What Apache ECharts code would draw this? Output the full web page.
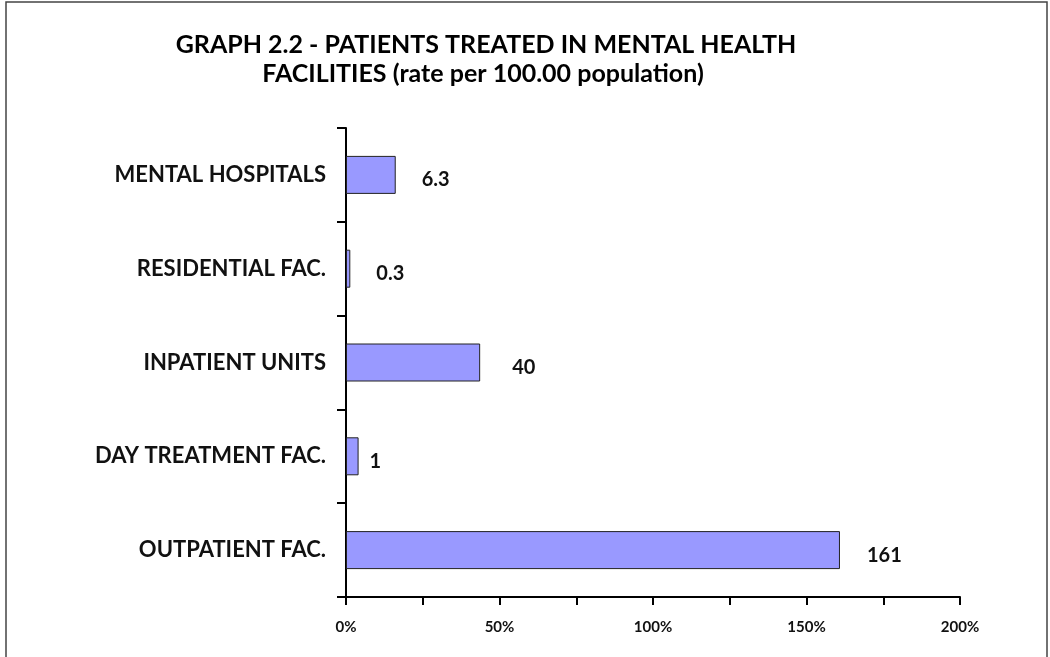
<!DOCTYPE html>
<html>
<head>
<meta charset="utf-8">
<script src="https://cdn.jsdelivr.net/npm/echarts@6/dist/echarts.min.js"></script>
<style>
html,body{margin:0;padding:0;background:#fff;}
#chart{width:1050px;height:657px;}
</style>
</head>
<body>
<div id="chart"></div>
<script>
// Data
const titleLines = ['GRAPH 2.2 - PATIENTS TREATED IN MENTAL HEALTH', 'FACILITIES (rate per 100.00 population)'];
const categories = ['MENTAL HOSPITALS', 'RESIDENTIAL FAC.', 'INPATIENT UNITS', 'DAY TREATMENT FAC.', 'OUTPATIENT FAC.'];
const barValues = [16.2, 1.4, 43.7, 4.1, 160.9];      // bar lengths, read against the % axis
const labelTexts = ['6.3', '0.3', '40', '1', '161'];   // data labels as printed
const xTicks = [0, 50, 100, 150, 200];                 // labelled % ticks

// label spacing (style only)
const labelGap = [26, 26, 32, 11, 27];

const FONT = 'Lato';
const chart = echarts.init(document.getElementById('chart'), null, {renderer: 'canvas'});

const option = {
  backgroundColor: '#ffffff',
  animation: false,
  graphic: [
    {type: 'rect', shape: {x: 6, y: 2, width: 1041, height: 700}, style: {fill: 'none', stroke: '#444', lineWidth: 1.5}, z: 0},
    {type: 'text', x: 486, y: 45, style: {text: titleLines[0], font: 'bold 25px ' + FONT, fill: '#000', textAlign: 'center', textVerticalAlign: 'middle'}},
    {type: 'text', x: 483, y: 74, style: {text: titleLines[1], font: 'bold 25px ' + FONT, fill: '#000', textAlign: 'center', textVerticalAlign: 'middle'}}
  ],
  grid: {left: 346, right: 90, top: 128, bottom: 60, containLabel: false},
  xAxis: {
    type: 'value', min: 0, max: 200, interval: 25,
    axisLine: {show: true, lineStyle: {color: '#000', width: 2}},
    axisTick: {show: true, length: 8, lineStyle: {color: '#000', width: 2}},
    splitLine: {show: false},
    axisLabel: {
      margin: 23, fontFamily: FONT, fontSize: 15, fontWeight: 'bold', color: '#111',
      formatter: v => xTicks.indexOf(v) >= 0 ? v + '%' : ''
    }
  },
  yAxis: {
    type: 'category', data: categories, inverse: true,
    axisLine: {show: true, lineStyle: {color: '#000', width: 2}},
    axisTick: {show: true, length: 9, lineStyle: {color: '#000', width: 2}},
    axisLabel: {margin: 20, fontFamily: FONT, fontSize: 22, fontWeight: 'bold', color: '#111'}
  },
  series: [{
    type: 'bar',
    barWidth: 38,
    data: barValues.map((v, i) => ({
      value: v,
      label: {
        show: true, position: 'right', distance: labelGap[i], offset: [0, 5],
        formatter: () => labelTexts[i],
        fontFamily: FONT, fontSize: 20, fontWeight: 'bold', color: '#111'
      }
    })),
    itemStyle: {color: '#9999FF', borderColor: '#222', borderWidth: 1}
  }]
};
chart.setOption(option);
</script>
</body>
</html>
